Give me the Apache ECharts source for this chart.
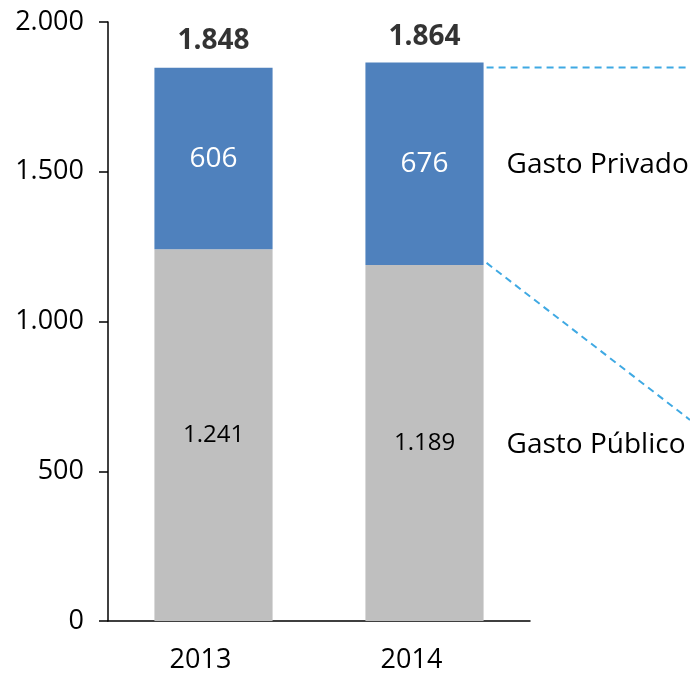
<!DOCTYPE html>
<html>
<head>
<meta charset="utf-8">
<script src="https://cdn.jsdelivr.net/npm/echarts@6/dist/echarts.min.js"></script>
<style>
  html, body { margin: 0; padding: 0; background: #fff; }
  #main { width: 690px; height: 678px; }
</style>
</head>
<body>
<div id="main"></div>
<script>
// datos
const years = ['2013', '2014']
const gastoPublico = [1241, 1189]
const gastoPrivado = [606, 676]
const totales = [1848, 1864]
const yTicks = [0, 500, 1000, 1500, 2000]
const sideLabels = ['Gasto Privado', 'Gasto Público']

const FONT = 'Open Sans'

// 1.848 -> separador de miles con punto
function fmt(v) {
    return String(v).replace(/\B(?=(\d{3})+(?!\d))/g, '.')
}

const chart = echarts.init(document.getElementById('main'))

chart.setOption({
    animation: false,
    grid: {
        left: 108,
        right: 160,
        top: 22,
        bottom: 57,
        containLabel: false
    },
    xAxis: {
        type: 'category',
        data: years,
        axisLine: { lineStyle: { color: '#000', width: 1.5 } },
        axisTick: { show: false },
        axisLabel: {
            color: '#000',
            fontFamily: FONT,
            fontSize: 27,
            margin: 26,
            padding: [0, 26, 0, 0]
        }
    },
    yAxis: {
        type: 'value',
        min: yTicks[0],
        max: yTicks[yTicks.length - 1],
        interval: 500,
        splitLine: { show: false },
        axisLine: { show: true, lineStyle: { color: '#000', width: 1.5 } },
        axisTick: { show: true, inside: false, length: 9, lineStyle: { color: '#000', width: 1.5 } },
        axisLabel: {
            color: '#000',
            fontFamily: FONT,
            fontSize: 27,
            margin: 24,
            formatter: fmt
        }
    },
    series: [
        {
            name: 'Gasto Público',
            type: 'bar',
            stack: 'gasto',
            barWidth: '56%',
            data: gastoPublico,
            itemStyle: { color: '#BFBFBF' },
            label: {
                show: true,
                position: 'inside',
                color: '#000',
                fontFamily: FONT,
                fontSize: 24,
                formatter: p => fmt(p.value)
            }
        },
        {
            name: 'Gasto Privado',
            type: 'bar',
            stack: 'gasto',
            data: gastoPrivado,
            itemStyle: { color: '#4F81BD' },
            label: {
                show: true,
                position: 'inside',
                color: '#fff',
                fontFamily: FONT,
                fontSize: 28,
                formatter: p => fmt(p.value)
            }
        },
        {
            // etiqueta del total encima de cada barra
            name: 'Total',
            type: 'scatter',
            data: totales,
            symbolSize: 0,
            silent: true,
            label: {
                show: true,
                position: 'top',
                distance: 12,
                color: '#000',
                fontFamily: FONT,
                fontWeight: 'bold',
                fontSize: 28,
                formatter: p => fmt(p.value)
            }
        }
    ]
})

// líneas discontinuas y textos a la derecha de la barra 2014
const last = years.length - 1
const c = chart.convertToPixel({ seriesIndex: 0 }, [last, 0])
const halfBar = (chart.convertToPixel({ xAxisIndex: 0 }, years[1]) - chart.convertToPixel({ xAxisIndex: 0 }, years[0])) * 0.56 / 2
const barRight = c[0] + halfBar
const yTop = chart.convertToPixel({ yAxisIndex: 0 }, gastoPublico[last] + gastoPrivado[last])
const yMid = chart.convertToPixel({ yAxisIndex: 0 }, gastoPublico[last])
const W = chart.getWidth()
const dash = { stroke: '#3FA9E3', lineWidth: 2, lineDash: [7, 5] }

chart.setOption({
    graphic: [
        { type: 'line', shape: { x1: barRight + 3, y1: yTop + 5, x2: W, y2: yTop + 5 }, style: dash },
        { type: 'line', shape: { x1: barRight + 3, y1: yMid - 2, x2: W, y2: yMid + 155 }, style: dash },
        {
            type: 'text', left: barRight + 23,
            top: chart.convertToPixel({ yAxisIndex: 0 }, gastoPublico[last] + gastoPrivado[last] / 2) - 13,
            style: { text: sideLabels[0], font: '28px "' + FONT + '"', fill: '#000' }
        },
        {
            type: 'text', left: barRight + 23,
            top: chart.convertToPixel({ yAxisIndex: 0 }, gastoPublico[last] / 2) - 12,
            style: { text: sideLabels[1], font: '28px "' + FONT + '"', fill: '#000' }
        }
    ]
})
</script>
</body>
</html>
